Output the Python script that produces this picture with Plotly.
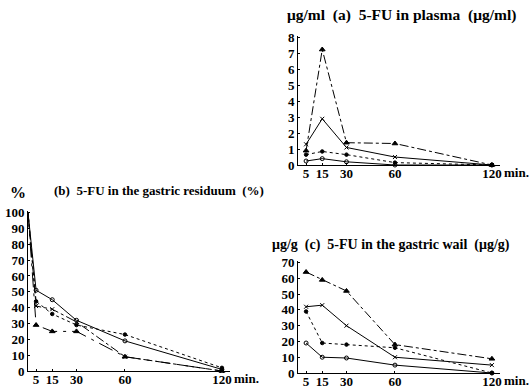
import plotly.graph_objects as go

# ---- data ----
times = [5, 15, 30, 60, 120]
times_b = [0, 5, 15, 30, 60, 120]

a_circle = [0.25, 0.4, 0.2, 0.0, 0.0]
a_dot = [0.65, 0.85, 0.65, 0.15, 0.0]
a_cross = [1.3, 2.9, 1.1, 0.5, 0.0]
a_tri = [0.9, 7.25, 1.4, 1.35, 0.0]

b_circle = [100, 51, 45, 32, 19, 1]
b_dot = [100, 44, 36, 29, 23, 2]
b_cross = [100, 41, 39, 31, 9, 0]
b_tri = [100, 29, 25, 25, 9, 0]

c_circle = [19, 10, 9.5, 5, 0]
c_dot = [39, 19, 18, 16, 0]
c_cross = [42, 43, 30, 10, 5]
c_tri = [64, 59, 52, 18, 9]

x_tickvals = [5, 15, 30, 60, 120]
x_ticktext = ["5", "15", "30", "60", "120"]

W, H = 531, 391
FONT = "Liberation Serif"

styles = {
    "circle": dict(symbol="circle-open", size=4, dash="solid"),
    "dot": dict(symbol="circle", size=3.5, dash="dot"),
    "cross": dict(symbol="x-thin-open", size=4, dash="solid"),
    "tri": dict(symbol="triangle-up", size=5, dash="dashdot"),
}

fig = go.Figure()

def add(xs, ys, kind, xa, ya, dash=None):
    s = styles[kind]
    # line through all points
    fig.add_trace(go.Scatter(
        x=xs, y=ys, mode="lines", xaxis=xa, yaxis=ya,
        line=dict(color="black", width=1, dash=dash or s["dash"]),
        showlegend=False, hoverinfo="skip", cliponaxis=False))
    # markers only at measured times (no marker at the t=0 start)
    mx = [x for x in xs if x > 0]
    my = [y for x, y in zip(xs, ys) if x > 0]
    fig.add_trace(go.Scatter(
        x=mx, y=my, mode="markers", xaxis=xa, yaxis=ya,
        marker=dict(symbol=s["symbol"], size=s["size"], color="black",
                    line=dict(color="black", width=1)),
        showlegend=False, hoverinfo="skip", cliponaxis=False))

add(times, a_circle, "circle", "x", "y")
add(times, a_dot, "dot", "x", "y")
add(times, a_cross, "cross", "x", "y")
add(times, a_tri, "tri", "x", "y")

add(times_b, b_circle, "circle", "x2", "y2")
add(times_b, b_dot, "dot", "x2", "y2")
add(times_b, b_cross, "cross", "x2", "y2", dash="dashdot")
add(times_b, b_tri, "tri", "x2", "y2", dash="longdashdot")

add(times, c_circle, "circle", "x3", "y3")
add(times, c_dot, "dot", "x3", "y3")
add(times, c_cross, "cross", "x3", "y3")
add(times, c_tri, "tri", "x3", "y3")

def px_x(a, b):
    return [a / W, b / W]

def px_y(top, bottom):
    return [(H - bottom) / H, (H - top) / H]

xcommon = dict(range=[0, 125], showline=True, linecolor="black", linewidth=1,
               showgrid=False, zeroline=False, tickvals=x_tickvals,
               ticktext=x_ticktext, ticks="inside", ticklen=2,
               tickcolor="black", ticklabelstandoff=-4,
               tickfont=dict(family=FONT, size=13, color="black", weight="bold"))
ycommon = dict(showline=True, linecolor="black", linewidth=1, showgrid=False,
               zeroline=False, ticks="inside", ticklen=2, tickcolor="black",
               ticklabelstandoff=0,
               tickfont=dict(family=FONT, size=13, color="black", weight="bold"))

fig.update_layout(
    width=W, height=H,
    margin=dict(l=0, r=0, t=0, b=0, autoexpand=False),
    paper_bgcolor="white", plot_bgcolor="white",
    xaxis=dict(domain=px_x(298, 500), anchor="y", **xcommon),
    yaxis=dict(domain=px_y(36, 165), anchor="x", range=[0, 8.1],
               tickvals=list(range(0, 9)), **ycommon),
    xaxis2=dict(domain=px_x(28, 230), anchor="y2", **xcommon),
    yaxis2=dict(domain=px_y(211, 371), anchor="x2", range=[0, 101],
                tickvals=list(range(0, 101, 10)), **ycommon),
    xaxis3=dict(domain=px_x(298, 500), anchor="y3", **xcommon),
    yaxis3=dict(domain=px_y(261, 373), anchor="x3", range=[0, 71],
                tickvals=list(range(0, 71, 10)), **ycommon),
)

def tf(size):
    return dict(family=FONT, size=size, color="black", weight="bold")

ann = [
    dict(text="μg/ml  (a)  5-FU in plasma  (μg/ml)", x=285 / W, y=(H - 15) / H,
         xanchor="left", yanchor="middle", font=tf(15.5)),
    dict(text="%", x=8 / W, y=(H - 193) / H, xanchor="left", yanchor="middle",
         font=tf(16)),
    dict(text="(b)  5-FU in the gastric residuum  (%)", x=52 / W, y=(H - 190) / H,
         xanchor="left", yanchor="middle", font=tf(13)),
    dict(text="μg/g  (c)  5-FU in the gastric wail  (μg/g)", x=270 / W, y=(H - 245) / H,
         xanchor="left", yanchor="middle", font=tf(14)),
]
for a in ann:
    fig.add_annotation(xref="paper", yref="paper", showarrow=False, **a)

for xa, ya in [("x", "y"), ("x2", "y2"), ("x3", "y3")]:
    fig.add_annotation(xref=xa, yref=ya, x=120, y=0, xshift=10, yshift=2,
                       text="min.", showarrow=False, xanchor="left", yanchor="top",
                       font=tf(13))

fig.write_html("out.html", config={"displayModeBar": False},
               post_script="document.body.style.margin='0';"
                           "document.body.style.overflow='hidden';")
